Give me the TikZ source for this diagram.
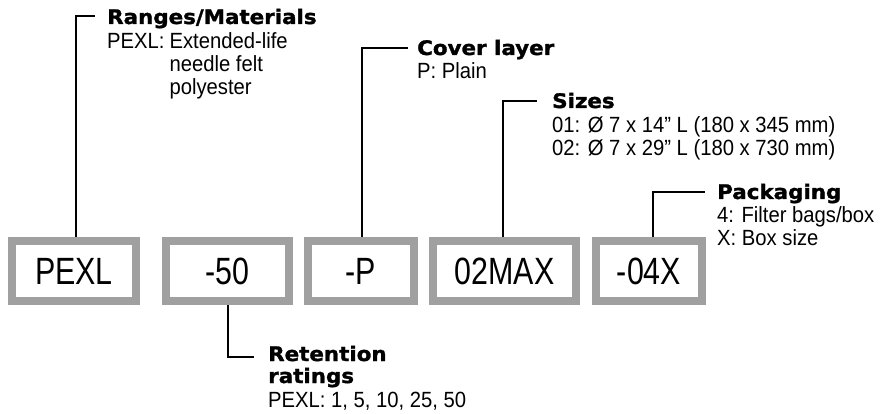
\documentclass[tikz,border=0pt]{standalone}
\usepackage{fontspec}
\setmainfont{Liberation Sans}[FakeStretch=0.92]
\newfontfamily\headfont{DejaVu Sans Bold}[FakeStretch=1.07, FakeBold=1.5]
\newfontfamily\boxfont{Liberation Sans}[FakeStretch=0.8]
\definecolor{boxgray}{HTML}{A0A0A0}
\tikzset{
  lbl/.style={draw=boxgray, line width=8pt, fill=white, minimum width=#1, minimum height=60pt, inner sep=0pt, font=\boxfont\fontsize{38}{40}\selectfont},
  head/.style={anchor=base west, inner sep=0pt, font=\headfont\fontsize{20}{22}\selectfont},
  body/.style={anchor=base west, inner sep=0pt, font=\fontsize{22}{23}\selectfont},
  conn/.style={line width=1.5pt, black, line join=miter}
}
\begin{document}
\begin{tikzpicture}[x=1pt,y=-1pt]
\useasboundingbox (0,0) rectangle (884,414);
% boxes
\node[lbl=124pt] (b1) at (74,271) {PEXL};
\node[lbl=123pt] (b2) at (227.5,271) {-50};
\node[lbl=106pt] (b3) at (361,271) {-P};
\node[lbl=143pt] (b4) at (504.5,271) {02MAX};
\node[lbl=106pt] (b5) at (649,271) {-04X};
% elbows
\coordinate (c1) at (76,16);  \coordinate (t1) at (95,16);
\coordinate (c2) at (362,48); \coordinate (t2) at (408,48);
\coordinate (c3) at (503,101); \coordinate (t3) at (537,101);
\coordinate (c4) at (653,192); \coordinate (t4) at (705,192);
\coordinate (c5) at (228,357); \coordinate (t5) at (254,357);
\draw[conn] (b1.north -| c1) -- (c1) -- (t1);
\draw[conn] (b3.north -| c2) -- (c2) -- (t2);
\draw[conn] (b4.north -| c3) -- (c3) -- (t3);
\draw[conn] (b5.north -| c4) -- (c4) -- (t4);
\draw[conn] (b2.south -| c5) -- (c5) -- (t5);
% texts
\node[head] (h1) at (107,24) {Ranges/Materials};
\node[body] (d1) at (107,49) {\begin{tabular}[t]{@{}l@{\hspace{5pt}}l@{}}PEXL: & Extended-life\\ & needle felt\\ & polyester\end{tabular}};
\node[head] (h2) at (417,55) {Cover layer};
\node[body] (d2) at (417,79) {P: Plain};
\node[head] (h3) at (552,108) {Sizes};
\node[body] (d3) at (552,133) {\begin{tabular}[t]{@{}l@{}}01: Ø 7 x 14” L (180 x 345 mm)\\02: Ø 7 x 29” L (180 x 730 mm)\end{tabular}};
\node[head] (h4) at (717,199) {Packaging};
\node[body] (d4) at (717,223) {\begin{tabular}[t]{@{}l@{}}4: Filter bags/box\\X: Box size\end{tabular}};
\node[head] (h5) at (268,361) {\begin{tabular}[t]{@{}l@{}}Retention\\ratings\end{tabular}};
\node[body] (d5) at (268,407) {PEXL: 1, 5, 10, 25, 50};
\end{tikzpicture}
\end{document}
